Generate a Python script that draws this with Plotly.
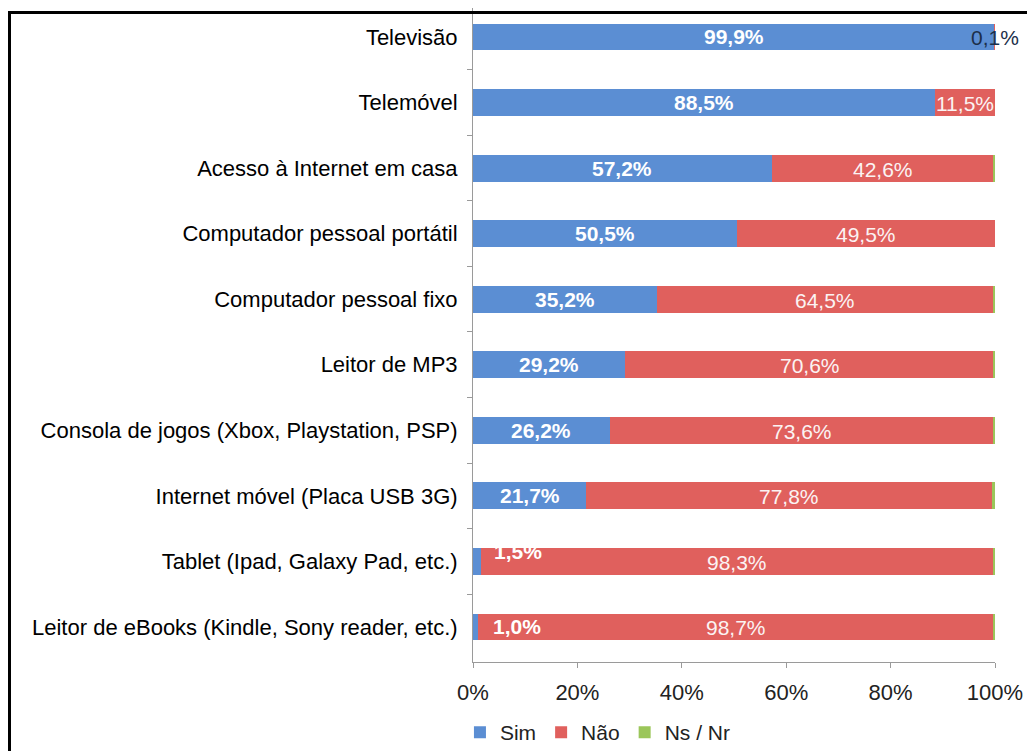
import plotly.graph_objects as go

categories = [
    "Televisão",
    "Telemóvel",
    "Acesso à Internet em casa",
    "Computador pessoal portátil",
    "Computador pessoal fixo",
    "Leitor de MP3",
    "Consola de jogos (Xbox, Playstation, PSP)",
    "Internet móvel (Placa USB 3G)",
    "Tablet (Ipad, Galaxy Pad, etc.)",
    "Leitor de eBooks (Kindle, Sony reader, etc.)",
]
sim = [99.9, 88.5, 57.2, 50.5, 35.2, 29.2, 26.2, 21.7, 1.5, 1.0]
nao = [0.1, 11.5, 42.6, 49.5, 64.5, 70.6, 73.6, 77.8, 98.3, 98.7]
nsnr = [0.0, 0.0, 0.2, 0.0, 0.3, 0.2, 0.2, 0.5, 0.2, 0.3]
x_ticks = [0, 20, 40, 60, 80, 100]
x_tick_labels = ["0%", "20%", "40%", "60%", "80%", "100%"]

BLUE = "#5b8ed3"
RED = "#e0605d"
GREEN = "#9bc65a"
FONT = "Liberation Sans, Arial, sans-serif"

def fmt(v):
    return f"{v:.1f}".replace(".", ",") + "%"

fig = go.Figure()
for name, vals, col in [("Sim", sim, BLUE), ("Não", nao, RED), ("Ns / Nr", nsnr, GREEN)]:
    fig.add_trace(go.Bar(
        y=categories, x=vals, name=name, orientation="h",
        marker=dict(color=col, line=dict(width=0)),
        width=0.41, hoverinfo="x+y+name",
    ))

annotations = []
for i, cat in enumerate(categories):
    s, n = sim[i], nao[i]
    if s < 5:
        xshift = 41
        yshift = 10 if i == 8 else 0
    else:
        xshift, yshift = 0, 0
    annotations.append(dict(
        x=s / 2, y=cat, text="<b>" + fmt(s) + "</b>", showarrow=False,
        xshift=xshift, yshift=yshift,
        font=dict(family=FONT, size=21, color="white"),
        xref="x", yref="y",
    ))
    small = n < 1
    annotations.append(dict(
        x=s + n / 2, y=cat, text=fmt(n), showarrow=False, yshift=-1,
        font=dict(family=FONT, size=21, color="#1c2f4a" if small else "#fbf3f3"),
        xref="x", yref="y",
    ))

fig.update_layout(
    width=1035, height=751,
    barmode="stack",
    paper_bgcolor="white", plot_bgcolor="white",
    margin=dict(l=465, r=48, t=0, b=97, autoexpand=False),
    font=dict(family=FONT, size=22, color="black"),
    showlegend=True,
    legend=dict(orientation="h", x=-0.025, xanchor="left", y=-0.108, yanchor="middle",
                font=dict(size=21, color="#222"), traceorder="normal",
                itemwidth=30, bgcolor="rgba(0,0,0,0)"),
    annotations=annotations,
    shapes=[dict(type="rect", xref="paper", yref="paper",
                 x0=(1.5 - 465) / 522, x1=1.3, y0=-0.4, y1=1 - 4.5 / 654,
                 line=dict(color="black", width=3), layer="above")],
)

fig.update_xaxes(
    range=[0, 100], tickvals=x_ticks, ticktext=x_tick_labels,
    showgrid=False, zeroline=False, showline=True, linecolor="#9a9a9a", linewidth=1,
    ticks="outside", ticklen=5, tickcolor="#9a9a9a",
    tickfont=dict(size=22, color="#222"), ticklabelstandoff=6,
)
fig.update_yaxes(
    range=[9.534, -0.442], showgrid=False, zeroline=False,
    showline=True, linecolor="#9a9a9a", linewidth=1,
    ticks="outside", ticklen=5, tickcolor="#9a9a9a", tickson="boundaries",
    tickfont=dict(size=22, color="black"), ticklabelstandoff=10,
)

fig.write_html("out.html")
